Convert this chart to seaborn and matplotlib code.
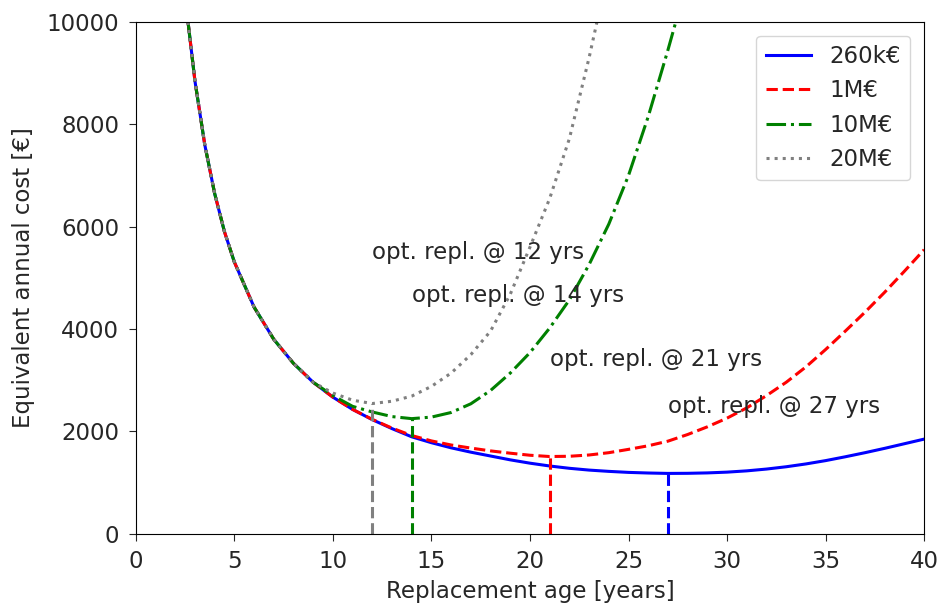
import matplotlib
matplotlib.use('Agg')
from matplotlib import pyplot as plt
import pandas as pd
import seaborn as sns

# Values
# steep start, shared by all four curves
age_start = [2.65, 3, 3.5, 4, 4.5, 5, 6, 7, 8, 9]
cost_start = [10000, 8850, 7600, 6650, 5900, 5310, 4430, 3800, 3330, 2960]

age_260k = list(range(10, 41))
cost_260k = [2670, 2430, 2230, 2055, 1895, 1780, 1680, 1595, 1520, 1445, 1380,
             1325, 1280, 1245, 1220, 1200, 1188, 1180, 1182, 1190, 1205, 1230,
             1265, 1310, 1365, 1430, 1505, 1585, 1670, 1760, 1850]

age_1m = list(range(10, 41))
cost_1m = [2670, 2430, 2235, 2065, 1920, 1815, 1735, 1675, 1620, 1575, 1535,
           1510, 1515, 1540, 1585, 1650, 1720, 1810, 1940, 2090, 2260, 2460,
           2700, 2960, 3260, 3600, 3960, 4330, 4720, 5130, 5550]

age_10m = [10, 11, 12, 13, 14, 15, 16, 17, 18, 19, 20, 21, 22, 23, 24, 25, 26, 27, 27.4]
cost_10m = [2700, 2490, 2380, 2290, 2250, 2280, 2370, 2540, 2800, 3140, 3540,
            4020, 4570, 5260, 6050, 7000, 8150, 9450, 10000]

age_20m = [10, 11, 12, 13, 14, 15, 16, 17, 18, 19, 20, 21, 22, 23, 23.4]
cost_20m = [2750, 2610, 2545, 2590, 2690, 2880, 3140, 3500, 3960, 4680, 5600,
            6550, 7720, 9300, 10000]

labels = ['260k€', '1M€', '10M€', '20M€']
opt_age = [27, 21, 14, 12]
opt_cost = [1180, 1510, 2250, 2545]
note_y = [2480, 3400, 4650, 5500]

colors = ['blue', 'red', 'green', 'grey']
styles = ['-', '--', '-.', ':']

series = [(age_260k, cost_260k), (age_1m, cost_1m), (age_10m, cost_10m), (age_20m, cost_20m)]

fs = 16.5

fig, ax = plt.subplots(figsize=(9.43, 6.08), dpi=100)
fig.subplots_adjust(left=0.144, right=0.98, bottom=0.122, top=0.964)

for (ages, costs), lab, col, ls in zip(series, labels, colors, styles):
    df = pd.DataFrame({'age': age_start + ages, 'cost': cost_start + costs})
    sns.lineplot(data=df, x='age', y='cost', ax=ax, color=col, linestyle=ls,
                 linewidth=2.2, label=lab)

for t, c, col in zip(opt_age, opt_cost, colors):
    ax.vlines(t, 0, c, colors=col, linestyles='--', linewidth=2.2)

for t, y in zip(opt_age, note_y):
    ax.text(t, y, 'opt. repl. @ %d yrs' % t, fontsize=fs, color='#262626',
            ha='left', va='center')

ax.set_xlim(0, 40)
ax.set_ylim(0, 10000)
ax.set_xticks(range(0, 41, 5))
ax.set_yticks(range(0, 10001, 2000))
ax.tick_params(labelsize=fs, length=5, pad=7, colors='#262626')
ax.set_xlabel('Replacement age [years]', fontsize=fs, color='#262626', labelpad=5)
ax.set_ylabel('Equivalent annual cost [€]', fontsize=fs, color='#262626', labelpad=8)
leg = ax.legend(loc='upper right', fontsize=fs, borderaxespad=0.6)
for txt in leg.get_texts():
    txt.set_color('#262626')

fig.savefig('out.png')
